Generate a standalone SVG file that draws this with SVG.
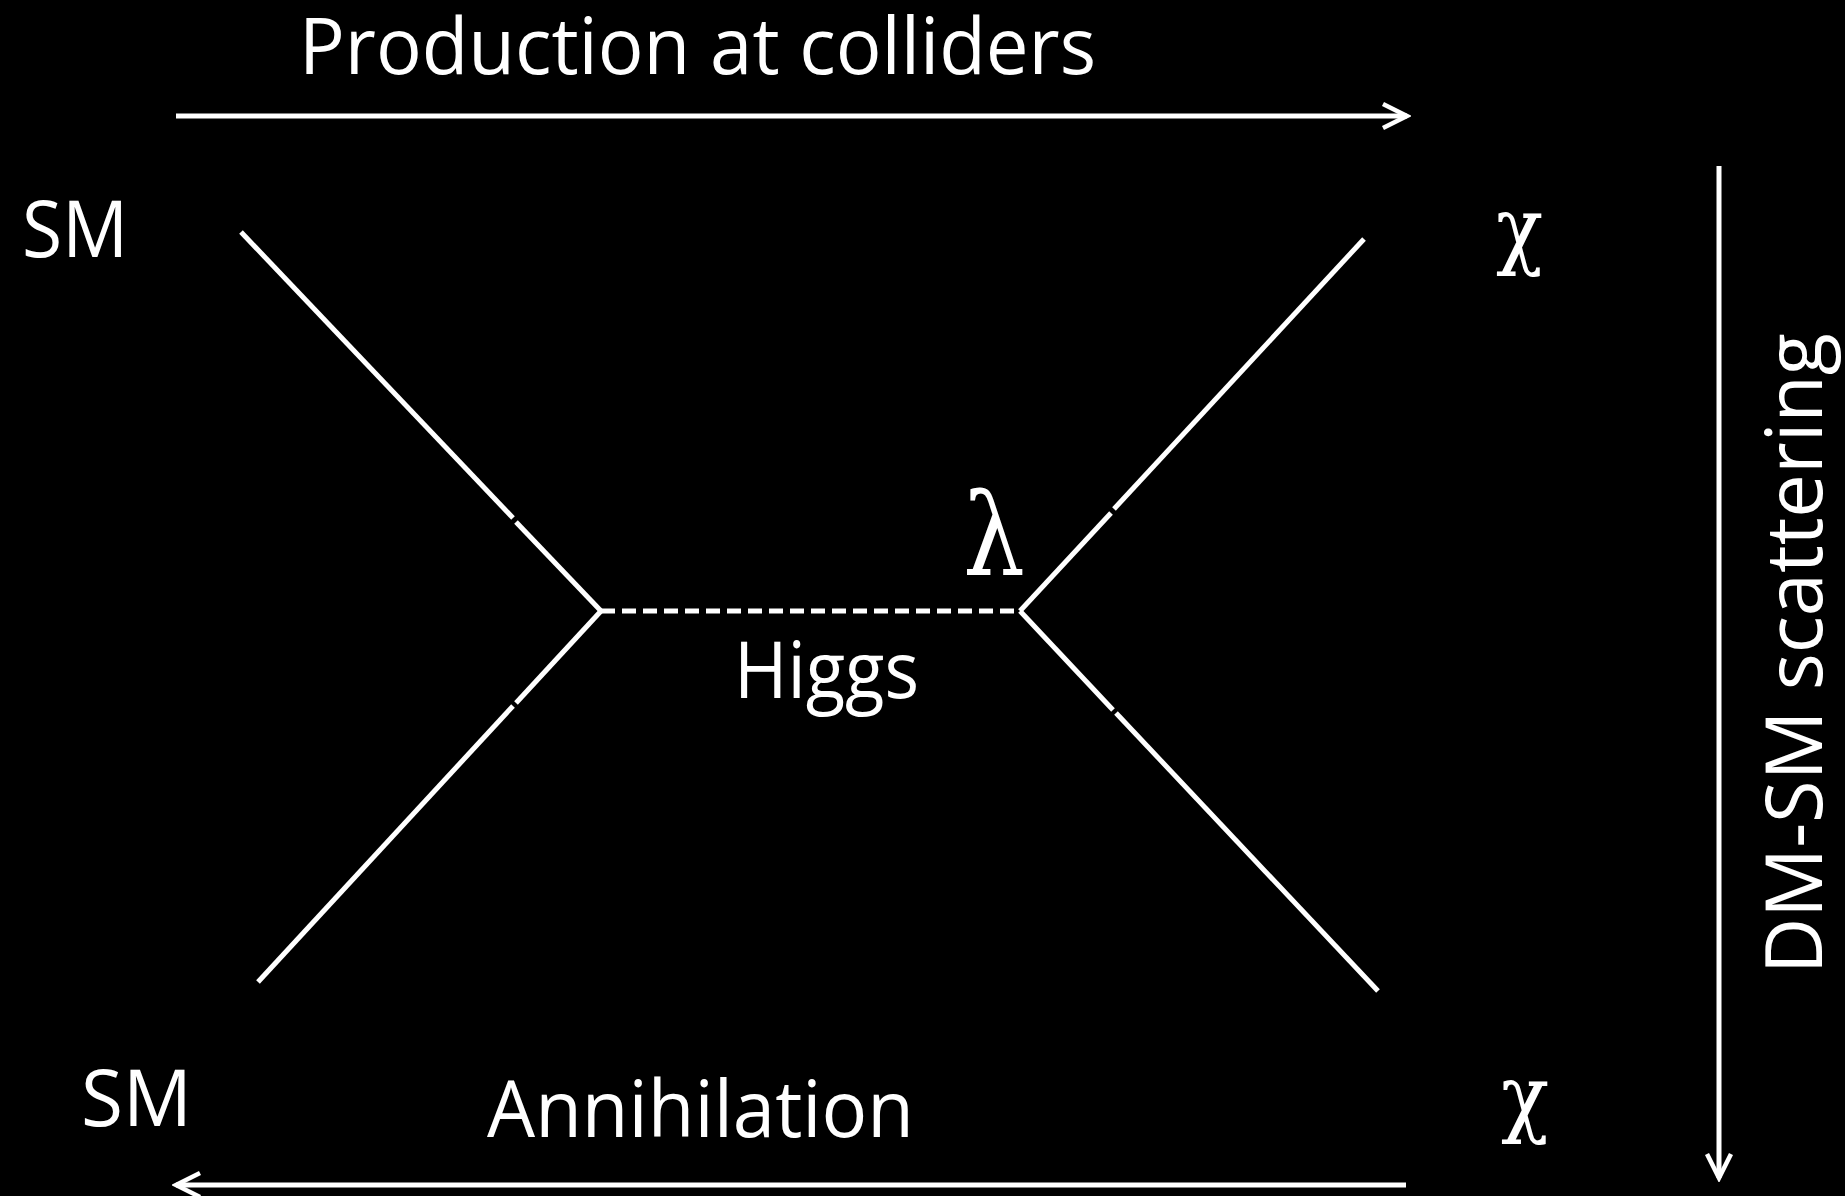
<svg xmlns="http://www.w3.org/2000/svg" width="1845" height="1196" viewBox="0 0 1845 1196">
<style>
.bg{fill:#000}
.ln{stroke:#fff;stroke-width:5;fill:none;stroke-linecap:butt}
.ar{stroke:#fff;stroke-width:5;fill:none}
.dash{stroke:#fff;stroke-width:5;stroke-dasharray:14 7;fill:none}
.t{fill:#fff;font-family:"Open Sans","Liberation Sans",sans-serif;font-size:78px}
.g{fill:#fff;font-family:"DejaVu Serif","Liberation Serif",serif}
</style>
<defs>
<marker id="head" viewBox="-30 -16 34 32" refX="0" refY="0" markerWidth="34" markerHeight="32" markerUnits="userSpaceOnUse" orient="auto">
<polyline points="-24,-12 0,0 -24,12" fill="none" stroke="#fff" stroke-width="4.5" stroke-linejoin="miter"/>
</marker>
</defs>
<rect class="bg" x="0" y="0" width="1845" height="1196"/>
<g id="connectors">
<line class="ar" x1="176" y1="116" x2="1407" y2="116" marker-end="url(#head)"/>
<line class="ar" x1="1406" y1="1185" x2="176" y2="1185" marker-end="url(#head)"/>
<line class="ar" x1="1719" y1="166" x2="1719" y2="1178" marker-end="url(#head)"/>
<line class="ln" x1="241" y1="232" x2="513" y2="518"/>
<line class="ln" x1="516" y1="522" x2="601" y2="611"/>
<line class="ln" x1="601" y1="611" x2="516" y2="703"/>
<line class="ln" x1="513" y1="706" x2="258" y2="982"/>
<line class="ln" x1="1020" y1="611" x2="1111" y2="513"/>
<line class="ln" x1="1114" y1="509" x2="1364" y2="239"/>
<line class="ln" x1="1020" y1="611" x2="1113" y2="710"/>
<line class="ln" x1="1116" y1="713" x2="1378" y2="991"/>
<line class="dash" x1="601" y1="611" x2="1020" y2="611"/>
</g>
<g id="label-production"><text class="t" x="299" y="74" textLength="797" lengthAdjust="spacingAndGlyphs">Production at colliders</text></g>
<g id="node-sm-top"><text class="t" x="22" y="257" textLength="106" lengthAdjust="spacingAndGlyphs">SM</text></g>
<g id="node-sm-bottom"><text class="t" x="81" y="1126" textLength="111" lengthAdjust="spacingAndGlyphs">SM</text></g>
<g id="label-annihilation"><text class="t" x="487" y="1137" textLength="427" lengthAdjust="spacingAndGlyphs">Annihilation</text></g>
<g id="label-higgs"><text class="t" x="734" y="698" textLength="185" lengthAdjust="spacingAndGlyphs">Higgs</text></g>
<g id="label-lambda"><text class="g" x="963" y="575" font-size="115" textLength="62" lengthAdjust="spacingAndGlyphs">λ</text></g>
<g id="node-chi-top"><text class="g" x="1496" y="258" font-size="86" textLength="47" lengthAdjust="spacingAndGlyphs">χ</text></g>
<g id="node-chi-bottom"><text class="g" x="1501" y="1126" font-size="86" textLength="48" lengthAdjust="spacingAndGlyphs">χ</text></g>
<g id="label-scattering"><text class="t" transform="translate(1822,974) rotate(-90)" x="0" y="0" textLength="641" lengthAdjust="spacingAndGlyphs">DM-SM scattering</text></g>
</svg>
